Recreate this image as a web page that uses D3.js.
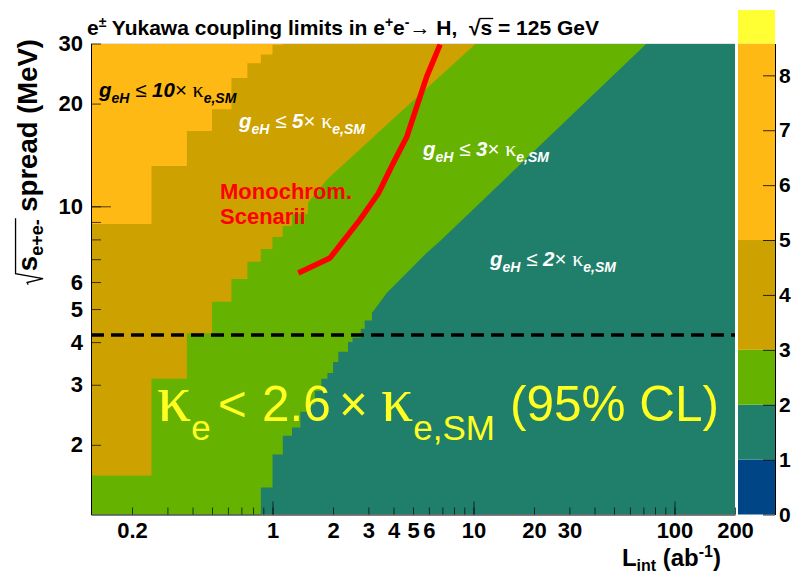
<!DOCTYPE html>
<html><head><meta charset="utf-8">
<script src="https://cdn.jsdelivr.net/npm/d3@7"></script>
<style>
body{margin:0;background:#fff}
svg{display:block}
text{font-family:'Liberation Sans',Arial,Helvetica,sans-serif;white-space:pre}
</style>
</head><body>
<svg id="c" width="795" height="575"></svg>
<script>
// ---------------- data ----------------
const xDomain = [0.125, 200];           // L_int (ab^-1)
const yDomain = [1.25, 30];             // sqrt(s) spread (MeV)
const xTicks = [0.2,0.3,0.4,0.5,0.6,0.7,0.8,0.9,1,2,3,4,5,6,7,8,9,10,20,30,40,50,60,70,80,90,100,200];
const xMajorTicks = [1,10,100];
const xTickLabels = [0.2,1,2,3,4,5,6,10,20,30,100,200];
const yTicks = [2,3,4,5,6,7,8,9,20,30];
const yMajorTicks = [10];
const yTickLabels = [2,3,4,5,6,10,20,30];
const zTicks = [0,1,2,3,4,5,6,7,8];
const zDomain = [0, 8.58];
const zLevels = [0, 1, 2, 3, 5, 8.58, 9.19];
const levelColors = ["#004586", "#207F6B", "#66B200", "#CCA100", "#FFB914", "#FFFF33"];

// region boundaries: staircase part [L, spread-from] then smooth part [L, spread]
const k2Steps = [[0.875,1.25],[1.0,1.5],[1.125,1.875],[1.25,2.125],[1.375,2.25],[1.5,2.5],[1.625,2.625],[1.75,2.875],[1.875,3.125],[2.0,3.25],[2.125,3.5],[2.375,3.75],[2.5,4.0],[2.75,4.125],[2.875,4.375],[3.125,4.625]];
const k2Smooth = [[3.15,4.9],[3.7,5.57],[4.65,6.38],[5.84,7.3],[6.8,7.9],[72.7,30]];
const k3Steps = [[0.25,1.625],[0.375,3.125],[0.5,4.25],[0.625,5.25],[0.75,6.125],[0.875,6.875],[1.0,7.5],[1.125,8.125],[1.25,8.75],[1.5,9.5]];
const k3Smooth = [[1.5,10.25],[1.875,12.0],[3.84,17.7],[10.3,30]];
const k5Steps = [[0.25,8.875],[0.375,13.125],[0.5,16.625],[0.625,19.25],[0.75,23.75],[0.875,26.25],[1.0,27.875],[1.125,29.75]];
const k5Smooth = [];
const monoL = [1.344,1.933,2.725,3.36,3.99,4.66,5.22,5.85,6.82];
const monoSpread = [6.38,7.06,9.14,10.9,13.4,16.0,19.6,24.0,29.8];
const spreadCut = 4.2;

// ---------------- layout ----------------
const plot = {l:91, r:735, t:43.5, b:514.5};
const cbar = {l:738, r:775};
const svg = d3.select('#c');
const x = d3.scaleLog().domain(xDomain).range([plot.l, plot.r]);
const y = d3.scaleLog().domain(yDomain).range([plot.b, plot.t]);
const z = d3.scaleLinear().domain(zDomain).range([plot.b, plot.t]);

svg.append('defs').append('clipPath').attr('id','clip').append('rect')
  .attr('x',plot.l).attr('y',plot.t).attr('width',plot.r-plot.l).attr('height',plot.b-plot.t);
const gp = svg.append('g').attr('clip-path','url(#clip)');

gp.append('rect').attr('x',plot.l).attr('y',plot.t).attr('width',plot.r-plot.l).attr('height',plot.b-plot.t)
  .attr('fill', levelColors[1]);

function regionPath(steps, smooth){
  const p = d3.path();
  p.moveTo(x(xDomain[0]), y(steps[0][1]));
  steps.forEach((s,i)=>{
    const nextY = i+1<steps.length ? steps[i+1][1] : (smooth.length ? smooth[0][1] : yDomain[1]);
    p.lineTo(x(s[0]), y(s[1]));
    p.lineTo(x(s[0]), y(nextY));
  });
  smooth.forEach(s=>p.lineTo(x(s[0]), y(s[1])));
  p.lineTo(x(xDomain[0]), y(yDomain[1]));
  p.closePath();
  return p.toString();
}
gp.append('path').attr('d', regionPath(k2Steps,k2Smooth)).attr('fill', levelColors[2]);
gp.append('path').attr('d', regionPath(k3Steps,k3Smooth)).attr('fill', levelColors[3]);
gp.append('path').attr('d', regionPath(k5Steps,k5Smooth)).attr('fill', levelColors[4]);

// dashed line
gp.append('line').attr('x1',x(xDomain[0])).attr('x2',x(xDomain[1]))
  .attr('y1',y(spreadCut)).attr('y2',y(spreadCut))
  .attr('stroke','#000').attr('stroke-width',3.5).attr('stroke-dasharray','13,7');

// red line
const monoPts = monoL.map((d,i)=>[d, monoSpread[i]]);
gp.append('path').attr('d', d3.line().x(d=>x(d[0])).y(d=>y(d[1]))(monoPts))
  .attr('fill','none').attr('stroke','#FF0000').attr('stroke-width',5.5).attr('stroke-linejoin','round');

// top border
svg.append('line').attr('x1',plot.l).attr('x2',plot.r).attr('y1',plot.t).attr('y2',plot.t).attr('stroke','#e4e4e4');

// ---------------- axes ----------------
const fmt = d => xTickLabels.includes(d) ? String(d) : '';
const gx = svg.append('g').attr('transform',`translate(0,${plot.b})`)
  .call(d3.axisBottom(x).tickValues(xTicks).tickSize(-7).tickSizeOuter(0).tickPadding(8).tickFormat(fmt));
const gx2 = svg.append('g').attr('transform',`translate(0,${plot.b})`)
  .call(d3.axisBottom(x).tickValues(xMajorTicks).tickSize(-13).tickSizeOuter(0).tickFormat(''));
gx2.select('.domain').remove();
const fmtY = d => yTickLabels.includes(d) ? String(d) : '';
const gy = svg.append('g').attr('transform',`translate(${plot.l},0)`)
  .call(d3.axisLeft(y).tickValues(yTicks.concat(yMajorTicks)).tickSize(-10).tickSizeOuter(0).tickPadding(8).tickFormat(fmtY));
const gy2 = svg.append('g').attr('transform',`translate(${plot.l},0)`)
  .call(d3.axisLeft(y).tickValues(yMajorTicks).tickSize(-20).tickSizeOuter(0).tickFormat(''));
gy2.select('.domain').remove();
[gx,gx2,gy,gy2].forEach(g=>{
  g.selectAll('.tick line').attr('stroke','#000').attr('stroke-opacity',0.7);
  g.selectAll('.domain').attr('stroke','#000');
  g.selectAll('text').attr('font-size',22).attr('font-weight','bold').attr('fill','#000')
    .attr('font-family',"'Liberation Sans',Arial,sans-serif");
});

// ---------------- color bar ----------------
const gc = svg.append('g');
for(let i=0;i<levelColors.length;i++){
  gc.append('rect').attr('x',cbar.l).attr('width',cbar.r-cbar.l)
    .attr('y', z(zLevels[i+1])).attr('height', z(zLevels[i])-z(zLevels[i+1]))
    .attr('fill', levelColors[i]);
}
const gz = svg.append('g').attr('transform',`translate(${cbar.r},0)`)
  .call(d3.axisRight(z).tickValues(zTicks).tickSize(-12).tickSizeOuter(0).tickPadding(4).tickFormat(d3.format('d')));
gz.selectAll('.tick line').attr('stroke','#000').attr('stroke-opacity',0.8);
gz.selectAll('.domain').attr('stroke','#000');
gz.selectAll('text').attr('font-size',21).attr('font-weight','bold').attr('fill','#000')
  .attr('font-family',"'Liberation Sans',Arial,sans-serif");

// ---------------- texts ----------------
function rich(parent, px, py, parts, o){
  const t = parent.append('text').attr('x',px).attr('y',py)
    .attr('font-size',o.fs).attr('font-weight',o.w||'bold').attr('fill',o.fill||'#000')
    .attr('text-anchor',o.anchor||'start');
  let cur = 0;
  parts.forEach(p=>{
    const sh = p.sh||0;
    const ts = t.append('tspan').text(p.t);
    if(sh-cur) ts.attr('dy', sh-cur);
    cur = sh;
    if(p.fs) ts.attr('font-size',p.fs);
    if(p.w) ts.attr('font-weight',p.w);
    if(p.st) ts.attr('font-style',p.st);
    if(p.ff) ts.attr('font-family',p.ff);
    if(p.x!=null) ts.attr('x',p.x);
  });
  return t;
}
function gLabel(px, py, num, fill){
  rich(svg, px, py, [
    {t:'g', st:'italic'},
    {t:'eH', st:'italic', fs:14, sh:6},
    {t:' \u2264 ', w:'normal'},
    {t:num, st:'italic'},
    {t:'\u00D7 ', w:'normal'},
    {t:'\u03BA', w:'normal', ff:"'Liberation Serif',serif", fs:22},
    {t:'e,SM', st:'italic', fs:14, sh:6}
  ], {fs:20.5, fill:fill});
}
gLabel(99, 97, '10', '#000');
gLabel(239, 128, '5', '#fff');
gLabel(423, 156, '3', '#fff');
gLabel(490, 266, '2', '#fff');

svg.append('text').attr('x',220).attr('y',199).attr('font-size',22).attr('font-weight','bold')
  .attr('fill','#FF0000').text('Monochrom.');
svg.append('text').attr('x',220).attr('y',224).attr('font-size',22).attr('font-weight','bold')
  .attr('fill','#FF0000').text('Scenarii');

// big yellow text
rich(svg, 157, 421, [
  {t:'\u03BA', ff:"'Liberation Serif',serif", fs:68},
  {t:'e', fs:35, sh:19},
  {t:'<', x:218},
  {t:'2.6', x:262},
  {t:'\u00D7', x:339},
  {t:'\u03BA', x:381, ff:"'Liberation Serif',serif", fs:64},
  {t:'e,SM', fs:35, sh:19},
  {t:'(95% CL)', x:510}
], {fs:49.5, w:'normal', fill:'#FFFF22'});

// title
const title = rich(svg, 87, 35, [
  {t:'e'},
  {t:'\u00B1', fs:14, sh:-8},
  {t:' Yukawa coupling limits in e'},
  {t:'+', fs:14, sh:-8},
  {t:'e'},
  {t:'-', fs:14, sh:-8},
  {t:'\u2192 H,  \u221As = 125 GeV'}
], {fs:21});
(function(){
  const node = title.node();
  const s = node.textContent;
  const i = s.indexOf('\u221A');
  const e1 = node.getExtentOfChar(i), e2 = node.getExtentOfChar(i+1);
  svg.append('line').attr('x1',e1.x+e1.width-1).attr('x2',e2.x+e2.width+1)
    .attr('y1',e1.y+2.5).attr('y2',e1.y+2.5).attr('stroke','#000').attr('stroke-width',1.3);
})();

// x title
rich(svg, 721, 566, [
  {t:'L'},
  {t:'int', fs:16, sh:5},
  {t:' (ab'},
  {t:'-1', fs:16, sh:-9},
  {t:')'}
], {fs:24, anchor:'end'});

// y title (rotated)
(function(){
  const F = 27.5;
  const g = svg.append('g').attr('transform','translate(37,39) rotate(-90)');
  const t = rich(g, 0, 0, [
    {t:'s'},
    {t:'e+e-', fs:18, sh:6},
    {t:' spread (MeV)'}
  ], {fs:F, anchor:'end'});
  const node = t.node();
  const e0 = node.getExtentOfChar(0);
  const e5 = node.getExtentOfChar(4);
  const x0 = e0.x - 2, x1 = e5.x + e5.width + 1;
  const top = -F*0.78;
  g.append('path').attr('d',`M${x0-F*0.42},${-F*0.32} L${x0-F*0.34},${-F*0.36} L${x0-F*0.2},${F*0.22} L${x0-F*0.02},${top} L${x1},${top}`)
    .attr('fill','none').attr('stroke','#000').attr('stroke-width',1.3);
})();
</script>
</body></html>
